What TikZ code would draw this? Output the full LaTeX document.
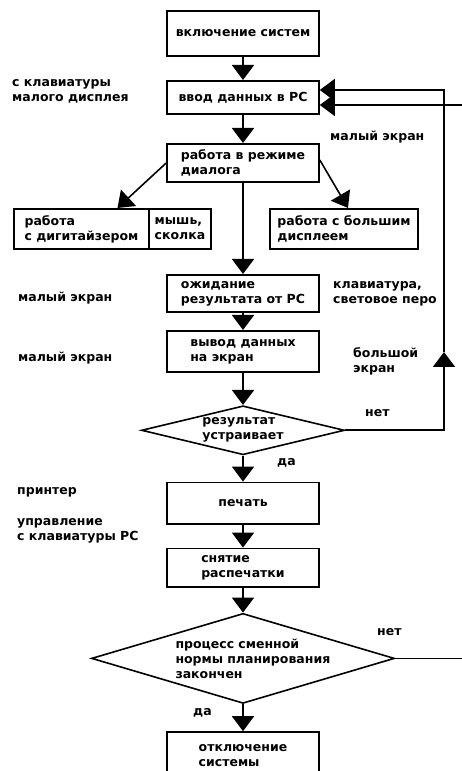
\documentclass[tikz,border=0pt]{standalone}
\usepackage{fontspec}
\setmainfont{DejaVu Sans}
\usetikzlibrary{arrows.meta,positioning,shapes.geometric}

\begin{document}
\begin{tikzpicture}[
  x=1pt, y=1pt,
  font=\bfseries\fontsize{12.5}{15}\selectfont,
  stepbox/.style={draw, line width=1.6pt, minimum width=152pt, align=left, inner sep=2pt},
  sidebox/.style={draw, line width=1.6pt, minimum height=40.4pt, align=left, inner sep=2pt},
  choice/.style={draw, diamond, line width=1.6pt, align=left, inner sep=-6pt},
  note/.style={align=left, inner sep=0pt, anchor=west},
  arr/.style={line width=1.6pt, -{Triangle[width=22pt,length=15pt]}}
]
\useasboundingbox (0,0) rectangle (461,771);
% main column
\node[stepbox, minimum height=45.4pt] (on) at (243,737.5) {включение систем};
\node[stepbox, minimum height=33.4pt, below=23pt of on] (input) {ввод данных в РС};
\node[stepbox, minimum height=38.4pt, below=28pt of input] (dialog) {работа в режиме\\диалога};
\node[stepbox, minimum height=37.4pt, below=91pt of dialog] (wait) {ожидание\\результата от РС};
\node[stepbox, minimum height=41.4pt, below=17pt of wait] (out) {вывод данных\\на экран};
\node[choice, shape aspect=4, minimum width=203pt, minimum height=49pt, below=32pt of out] (ok) {результат\\устраивает};
\node[stepbox, minimum height=41.4pt, below=26pt of ok] (print) {печать};
\node[stepbox, minimum height=38.4pt, below=23pt of print] (take) {снятие\\распечатки};
\node[choice, shape aspect=3.3, minimum width=303pt, minimum height=90pt, text width=135pt,
  below=25pt of take] (done) {процесс~сменной\\нормы~планирования\\закончен};
\node[stepbox, minimum height=46.4pt, below=27pt of done] (stop) {отключение\\системы};
% side boxes
\node[sidebox, minimum width=135pt] (digit) at (81.5,542) {работа\\с дигитайзером};
\node[sidebox, minimum width=62pt, right=-1.6pt of digit] (mouse) {мышь,\\сколка};
\node[sidebox, minimum width=148pt] (big) at (344,542) {работа с большим\\дисплеем};
% notes
\node[note] (kbd) at (12,680) {с клавиатуры\\малого дисплея};
\node[note] (scr1) at (330,634) {малый экран};
\node[note] (scr2) at (18,473) {малый экран};
\node[note] (pen) at (333,477.5) {клавиатура,\\световое перо};
\node[note] (scr3) at (18,413) {малый экран};
\node[note] (bigscr) at (353,410) {большой\\экран};
\node[note] (no1) at (365,358) {нет};
\node[note] (yes1) at (277,308) {да};
\node[note] (prn) at (17,279) {принтер};
\node[note] (ctl) at (17,240) {управление\\с клавиатуры РС};
\node[note] (no2) at (377,139) {нет};
\node[note] (yes2) at (193,58) {да};
% connectors
\draw[arr] (on) -- (input);
\draw[arr] (input) -- (dialog);
\draw[arr] (dialog) -- (wait);
\draw[arr] (wait) -- (out);
\draw[arr] (out) -- (ok);
\draw[arr] (ok) -- (print);
\draw[arr] (print) -- (take);
\draw[arr] (take) -- (done);
\draw[arr] (done) -- (stop);
\draw[arr] (dialog.west) -- ([xshift=36pt]digit.north);
\draw[arr] ([yshift=3pt]dialog.east) -- ([xshift=4pt]big.north);
\coordinate (up) at (444,419);
\draw[arr] (ok.east) -| (up);
\draw[arr] (up) |- ([yshift=7.5pt]input.east);
\draw[arr] (done.east) -- ++(80,0) |- ([yshift=-7.5pt]input.east);
\end{tikzpicture}
\end{document}
